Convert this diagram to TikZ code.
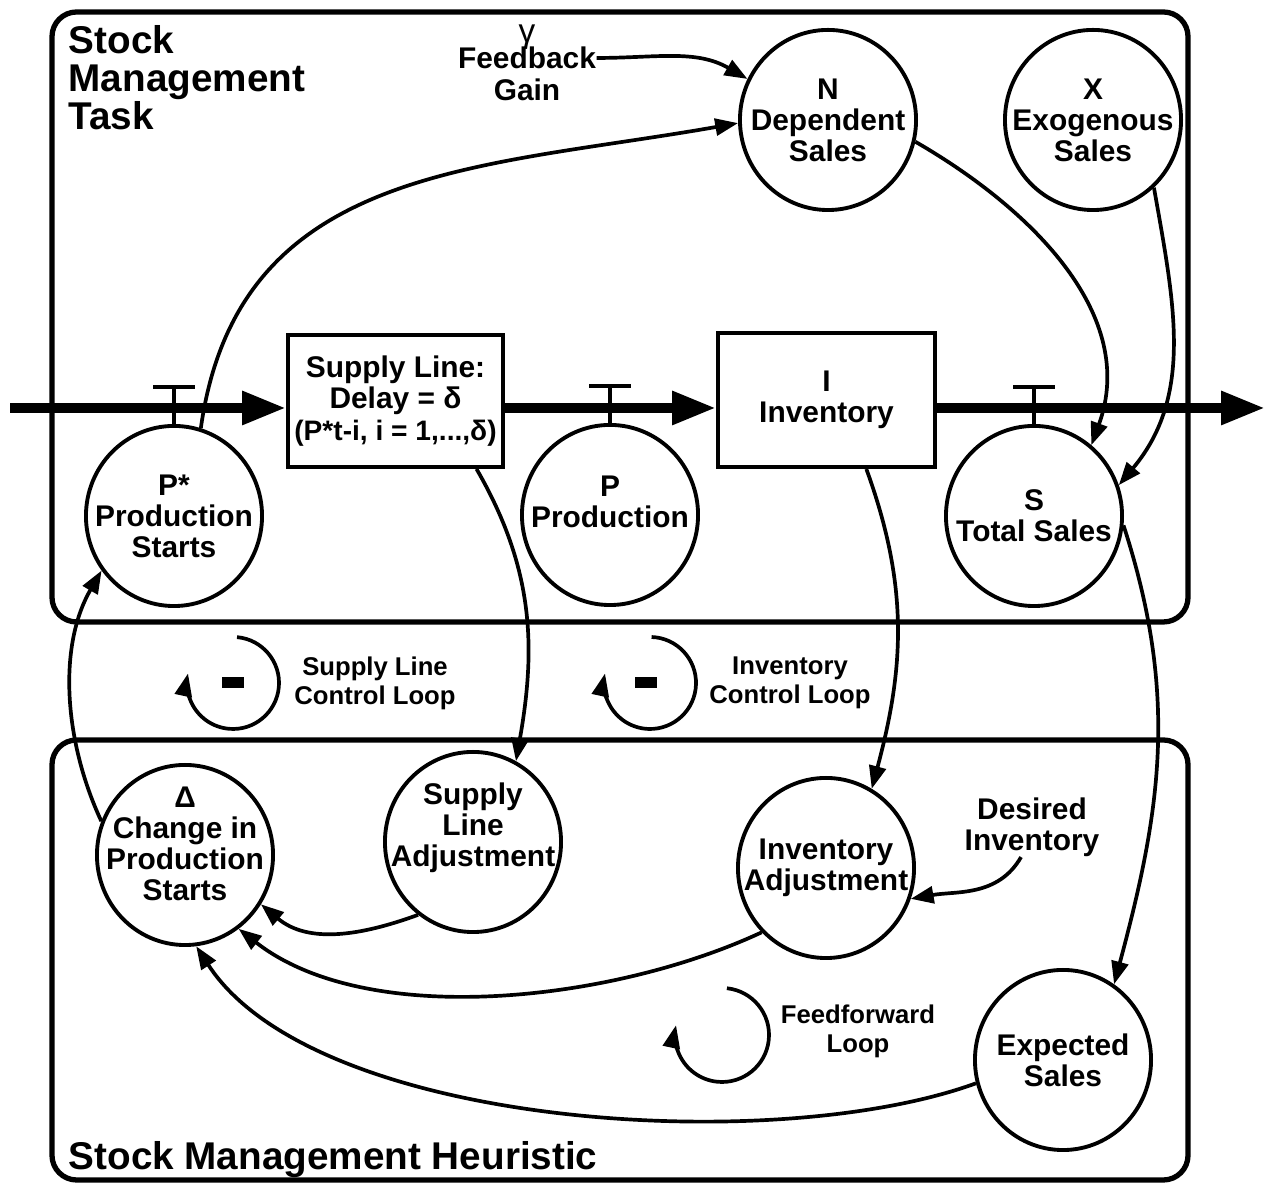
\documentclass[tikz,border=0pt]{standalone}
\usepackage{fontspec}
\setmainfont{Liberation Sans}
\usetikzlibrary{arrows.meta,shapes.geometric}

\begin{document}
\begin{tikzpicture}[x=0.01cm,y=0.01cm,
    font=\bfseries,
    var/.style={draw, ellipse, minimum width=1.76cm, minimum height=1.80cm, inner sep=0pt, line width=1.1pt},
    vartext/.style={align=center, inner sep=0pt, font=\fontsize{8.5}{8.8}\selectfont\bfseries},
    stock/.style={draw, rectangle, line width=1.1pt, inner xsep=0pt, align=center, font=\fontsize{8.5}{9}\selectfont\bfseries},
    flow/.style={line width=2.8pt, -{Triangle[length=12.5pt,width=9pt]}},
    valve/.style={line width=1.1pt},
    link/.style={line width=1.05pt, -{Triangle[length=6.5pt,width=4.8pt]}},
    frame/.style={line width=1.5pt, rounded corners=7pt},
    looptext/.style={align=center, font=\fontsize{7.3}{8.3}\selectfont\bfseries},
    title/.style={align=left, inner sep=0pt, font=\fontsize{11}{10.8}\selectfont\bfseries},
  ]
  \useasboundingbox (0,0) rectangle (1267,1183);

  % task and heuristic frames
  \draw[frame] (52,561) rectangle (1188,1171);
  \draw[frame] (52,3) rectangle (1188,443);
  \node[title, anchor=north west] (task) at (68,1158) {Stock\\Management\\Task};
  \node[title, anchor=base west] (heur) at (68,13) {Stock Management Heuristic};

  % stocks and the material flow
  \node[stock, minimum width=2.15cm, minimum height=1.32cm] (supply) at (395.5,782)
    {Supply Line:\\Delay = δ\\{\fontsize{8}{9}\selectfont(P*t-i, i = 1,...,δ)}};
  \node[stock, minimum width=2.17cm, minimum height=1.34cm] (inv) at (826.5,783) {I\\Inventory};
  \coordinate (src) at (10,775);
  \coordinate (sink) at (1265,775);
  \draw[flow] (src) -- (src -| supply.west);
  \draw[flow] (supply.east |- src) -- (inv.west |- src);
  \draw[flow] (inv.east |- src) -- (sink);

  % variables
  \node[var, label={[vartext]center:P*\\Production\\Starts}] (pstar) at (174,667) {};
  \node[var, label={[vartext, yshift=0.13cm]center:P\\Production}] (prod) at (610,668) {};
  \node[var, label={[vartext]center:S\\Total Sales}] (stotal) at (1034,667) {};
  \node[var, label={[vartext]center:N\\Dependent\\Sales}] (ndep) at (828,1063) {};
  \node[var, label={[vartext]center:X\\Exogenous\\Sales}] (xexo) at (1093,1063) {};
  \node[var, label={[vartext, yshift=0.11cm]center:Δ\\Change in\\Production\\Starts}] (change) at (185,328) {};
  \node[var, label={[vartext, yshift=0.14cm]center:Supply\\Line\\Adjustment}] (sadj) at (473,341) {};
  \node[var, label={[vartext]center:Inventory\\Adjustment}] (iadj) at (826,315) {};
  \node[var, label={[vartext]center:Expected\\Sales}] (expect) at (1063,123) {};

  % valves
  \draw[valve] (pstar.north) -- ++(0,37) ++(-21,0) -- ++(42,0);
  \draw[valve] (prod.north) -- ++(0,37) ++(-21,0) -- ++(42,0);
  \draw[valve] (stotal.north) -- ++(0,37) ++(-21,0) -- ++(42,0);

  % parameters
  \node[font=\fontsize{9.5}{10}\selectfont] (gamma) at (527,1146) {γ};
  \node[vartext] (feedback) at (527,1125) {Feedback};
  \node[vartext] (gain) at (527,1093) {Gain};
  \node[vartext] (desired) at (1032,356) {Desired\\Inventory};

  % causal links
  \begin{scope}[link]
    \draw (pstar.73) to[out=82, in=190, looseness=1.1] (ndep.182);
    \draw (feedback.east) to[out=0, in=150] (ndep.153);
    \draw (ndep.-14) to[out=-30, in=70] (stotal.51);
    \draw (xexo.-48) to[out=-80, in=50] (stotal.20);
    \draw (supply.-40) to[out=-60, in=80] (sadj.62);
    \draw (inv.-60) to[out=-70, in=75] (iadj.60);
    \draw (stotal.-6) to[out=-72, in=75] (expect.56);
    \draw (desired.250) to[out=-120, in=10] (iadj.-20);
    \draw (sadj.233) to[out=200, in=-40] (change.-33);
    \draw (iadj.225) to[out=205, in=-38, looseness=0.8] (change.-54);
    \draw (expect.195) to[out=200, in=-57, looseness=0.7] (change.-83);
    \draw (change.158) to[out=115, in=240, looseness=0.9] (pstar.217);
  \end{scope}

  % loop markers
  \draw[link] (233,500) ++(85:46) arc[start angle=85, end angle=-192, radius=46];
  \fill (222,495) rectangle (244,506);
  \node[looptext] (slloop) at (375,500) {Supply Line\\Control Loop};
  \draw[link] (650,500) ++(88:46) arc[start angle=88, end angle=-192, radius=46];
  \fill (635,495) rectangle (657,506);
  \node[looptext] (invloop) at (790,500) {Inventory\\Control Loop};
  \draw[link] (722,148) ++(84:47) arc[start angle=84, end angle=-192, radius=47];
  \node[looptext] (ffloop) at (858,152) {Feedforward\\Loop};
\end{tikzpicture}
\end{document}
